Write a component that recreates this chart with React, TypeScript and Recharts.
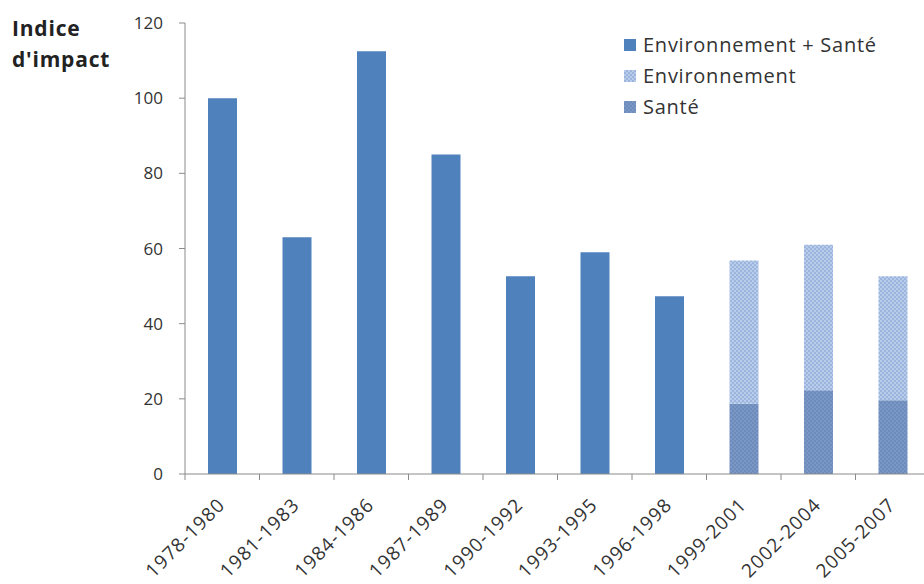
import { Bar, BarChart, Legend, XAxis, YAxis } from 'recharts';

const categories = [
  '1978-1980', '1981-1983', '1984-1986', '1987-1989', '1990-1992',
  '1993-1995', '1996-1998', '1999-2001', '2002-2004', '2005-2007',
];
// one bar per period before 1999, then split into Santé + Environnement
const envSante = [100, 63, 112.5, 85, 52.6, 59, 47.3, null, null, null];
const sante = [null, null, null, null, null, null, null, 18.7, 22.3, 19.6];
const environnement = [null, null, null, null, null, null, null, 38.1, 38.7, 33];
const yTicks = [0, 20, 40, 60, 80, 100, 120];

const data = categories.map((name, i) => ({
  name,
  envSante: envSante[i],
  sante: sante[i],
  environnement: environnement[i],
}));

const FONT = "'Open Sans', sans-serif";
const AXIS = '#8a8a8a';
const BLUE = '#4f81bd';

const legendItems = [
  { label: 'Environnement + Santé', fill: BLUE },
  { label: 'Environnement', fill: 'url(#envPattern)' },
  { label: 'Santé', fill: 'url(#santePattern)' },
];

const XTick = (props: any) => {
  const { x, y, payload } = props;
  const half = 37.25;
  return (
    <g>
      <line x1={x - half} x2={x - half} y1={y} y2={y + 6} stroke={AXIS} />
      <text
        transform={`translate(${x + 4},${y + 32}) rotate(-45)`}
        textAnchor='end'
        fontSize={19}
        letterSpacing={1.1}
        fontFamily={FONT}
        fill='#333'
      >
        {payload.value}
      </text>
    </g>
  );
};

const renderLegend = () => (
  <div style={{ fontFamily: FONT, fontSize: 20, letterSpacing: 0.75, color: '#333' }}>
    {legendItems.map((item) => (
      <div key={item.label} style={{ display: 'flex', alignItems: 'center', height: 31 }}>
        <svg width={12} height={12} style={{ marginRight: 7 }}>
          <rect width={12} height={12} fill={item.fill} />
        </svg>
        <span>{item.label}</span>
      </div>
    ))}
  </div>
);

export default function App() {
  return (
    <div style={{ position: 'relative', width: 924, height: 584, background: '#fff', overflow: 'hidden' }}>
      <style>{`body{margin:0}`}</style>
      <div
        style={{
          position: 'absolute',
          left: 12,
          top: 13,
          fontFamily: FONT,
          fontWeight: 700,
          fontSize: 21,
          letterSpacing: 0.8,
          lineHeight: '31px',
          color: '#222',
        }}
      >
        Indice
        <br />
        d'impact
      </div>
      <BarChart
        width={924}
        height={584}
        data={data}
        margin={{ top: 23, right: -6, bottom: 0, left: 0 }}
      >
        <defs>
          <pattern id='envPattern' width={4} height={4} patternUnits='userSpaceOnUse'>
            <rect width={4} height={4} fill='#9bb5de' />
            <rect width={2} height={2} fill='#b9cdeb' />
            <rect x={2} y={2} width={2} height={2} fill='#b9cdeb' />
          </pattern>
          <pattern id='santePattern' width={4} height={4} patternUnits='userSpaceOnUse'>
            <rect width={4} height={4} fill='#6d8cbd' />
            <rect width={2} height={2} fill='#7b97c4' />
            <rect x={2} y={2} width={2} height={2} fill='#7b97c4' />
          </pattern>
        </defs>
        <XAxis
          dataKey='name'
          type='category'
          height={110}
          interval={0}
          stroke={AXIS}
          tickLine={false}
          tickSize={0}
          tickMargin={0}
          tick={<XTick />}
        />
        <YAxis
          width={185}
          domain={[0, 120]}
          ticks={yTicks}
          stroke={AXIS}
          tickSize={6}
          tickMargin={16}
          tick={{ fill: '#333', fontSize: 17, fontFamily: FONT }}
        />
        <Legend
          layout='vertical'
          verticalAlign='middle'
          align='center'
          content={renderLegend}
          wrapperStyle={{ left: 624, top: 29, width: 300 }}
        />
        <Bar dataKey='envSante' name='Environnement + Santé' stackId='a' fill={BLUE} barSize={29} isAnimationActive={false} />
        <Bar dataKey='sante' name='Santé' stackId='a' fill='url(#santePattern)' barSize={29} isAnimationActive={false} />
        <Bar dataKey='environnement' name='Environnement' stackId='a' fill='url(#envPattern)' barSize={29} isAnimationActive={false} />
      </BarChart>
    </div>
  );
}
